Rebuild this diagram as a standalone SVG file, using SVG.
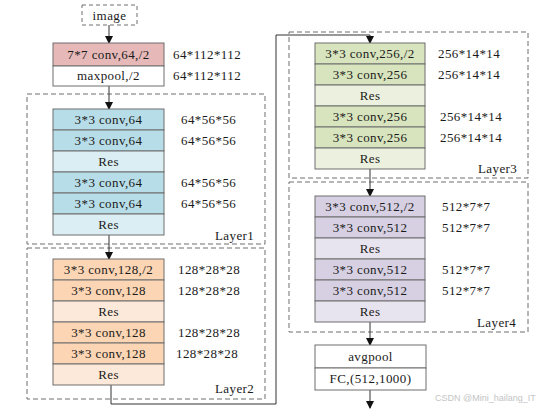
<svg xmlns="http://www.w3.org/2000/svg" width="543" height="412" viewBox="0 0 543 412">
<defs>
<style>
text{font-family:"Liberation Serif","Times New Roman",serif;font-size:13px;letter-spacing:0.4px;fill:#1a1a1a}
.c{text-anchor:middle}
.b{stroke:#6e6e6e;stroke-width:1}
.grp{fill:none;stroke:#6e6e6e;stroke-width:1;stroke-dasharray:5,3}
.ln{fill:none;stroke:#333;stroke-width:1}
.red{fill:#e6b9b8}.wh{fill:#fff}
.bl{fill:#b7dde8}.bl2{fill:#dbeef3}
.or{fill:#fcd5b4}.or2{fill:#fde9d9}
.gr{fill:#d7e4bd}.gr2{fill:#ebf1de}
.pu{fill:#d6d0e2}.pu2{fill:#e8e4ef}
</style>
<marker id="ar" markerWidth="8" markerHeight="8" refX="7" refY="4" orient="auto" markerUnits="userSpaceOnUse">
<path d="M0,0 L8,4 L0,8 z" fill="#111"/>
</marker>
</defs>
<rect width="543" height="412" fill="#fff"/>

<g id="groups">
<rect class="grp" x="27" y="94" width="238" height="150"/>
<rect class="grp" x="27" y="248" width="238" height="151"/>
<rect class="grp" x="289" y="32" width="239" height="146"/>
<rect class="grp" x="289" y="182" width="239" height="150"/>
</g>

<g id="connectors">
<line class="ln" x1="109" y1="25" x2="109" y2="43" marker-end="url(#ar)"/>
<line class="ln" x1="109" y1="86" x2="109" y2="109" marker-end="url(#ar)"/>
<line class="ln" x1="109" y1="235" x2="109" y2="259" marker-end="url(#ar)"/>
<polyline class="ln" points="111,385 111,404 276,404 276,35 370,35 370,43" marker-end="url(#ar)"/>
<line class="ln" x1="370" y1="169" x2="370" y2="196" marker-end="url(#ar)"/>
<line class="ln" x1="370" y1="322" x2="370" y2="345" marker-end="url(#ar)"/>
<line class="ln" x1="370" y1="390" x2="370" y2="408" marker-end="url(#ar)"/>
</g>

<g id="image">
<rect x="82" y="5" width="55" height="20" fill="#fff" stroke="#6e6e6e" stroke-dasharray="4,3"/>
<text class="c" x="109.5" y="19.5">image</text>
</g>

<g id="stem">
<rect class="b red" x="53" y="43" width="111" height="23"/>
<text class="c" x="108.5" y="59">7*7 conv,64,/2</text>
<rect class="b wh" x="53" y="66" width="111" height="20"/>
<text class="c" x="108.5" y="80">maxpool,/2</text>
<text x="173" y="59">64*112*112</text>
<text x="173" y="80">64*112*112</text>
</g>

<g id="layer1">
<rect class="b bl" x="53" y="109" width="111" height="21"/>
<rect class="b bl" x="53" y="130" width="111" height="21"/>
<rect class="b bl2" x="53" y="151" width="111" height="21"/>
<rect class="b bl" x="53" y="172" width="111" height="21"/>
<rect class="b bl" x="53" y="193" width="111" height="21"/>
<rect class="b bl2" x="53" y="214" width="111" height="21"/>
<text class="c" x="108.5" y="124">3*3 conv,64</text>
<text class="c" x="108.5" y="145">3*3 conv,64</text>
<text class="c" x="108.5" y="166">Res</text>
<text class="c" x="108.5" y="187">3*3 conv,64</text>
<text class="c" x="108.5" y="208">3*3 conv,64</text>
<text class="c" x="108.5" y="229">Res</text>
<text x="181" y="124">64*56*56</text>
<text x="181" y="145">64*56*56</text>
<text x="181" y="187">64*56*56</text>
<text x="181" y="208">64*56*56</text>
<text x="215" y="240">Layer1</text>
</g>

<g id="layer2">
<rect class="b or" x="53" y="259" width="111" height="21"/>
<rect class="b or" x="53" y="280" width="111" height="21"/>
<rect class="b or2" x="53" y="301" width="111" height="21"/>
<rect class="b or" x="53" y="322" width="111" height="21"/>
<rect class="b or" x="53" y="343" width="111" height="21"/>
<rect class="b or2" x="53" y="364" width="111" height="21"/>
<text class="c" x="108.5" y="274">3*3 conv,128,/2</text>
<text class="c" x="108.5" y="295">3*3 conv,128</text>
<text class="c" x="108.5" y="316">Res</text>
<text class="c" x="108.5" y="337">3*3 conv,128</text>
<text class="c" x="108.5" y="358">3*3 conv,128</text>
<text class="c" x="108.5" y="379">Res</text>
<text x="178" y="274">128*28*28</text>
<text x="178" y="295">128*28*28</text>
<text x="178" y="337">128*28*28</text>
<text x="176" y="358">128*28*28</text>
<text x="215" y="393">Layer2</text>
</g>

<g id="layer3">
<rect class="b gr" x="315" y="43" width="110" height="21"/>
<rect class="b gr" x="315" y="64" width="110" height="21"/>
<rect class="b gr2" x="315" y="85" width="110" height="21"/>
<rect class="b gr" x="315" y="106" width="110" height="21"/>
<rect class="b gr" x="315" y="127" width="110" height="21"/>
<rect class="b gr2" x="315" y="148" width="110" height="21"/>
<text class="c" x="370" y="58">3*3 conv,256,/2</text>
<text class="c" x="370" y="79">3*3 conv,256</text>
<text class="c" x="370" y="100">Res</text>
<text class="c" x="370" y="121">3*3 conv,256</text>
<text class="c" x="370" y="142">3*3 conv,256</text>
<text class="c" x="370" y="163">Res</text>
<text x="438" y="58">256*14*14</text>
<text x="438" y="79">256*14*14</text>
<text x="440" y="121">256*14*14</text>
<text x="440" y="142">256*14*14</text>
<text x="478" y="173">Layer3</text>
</g>

<g id="layer4">
<rect class="b pu" x="315" y="196" width="110" height="21"/>
<rect class="b pu" x="315" y="217" width="110" height="21"/>
<rect class="b pu2" x="315" y="238" width="110" height="21"/>
<rect class="b pu" x="315" y="259" width="110" height="21"/>
<rect class="b pu" x="315" y="280" width="110" height="21"/>
<rect class="b pu2" x="315" y="301" width="110" height="21"/>
<text class="c" x="370" y="211">3*3 conv,512,/2</text>
<text class="c" x="370" y="232">3*3 conv,512</text>
<text class="c" x="370" y="253">Res</text>
<text class="c" x="370" y="274">3*3 conv,512</text>
<text class="c" x="370" y="295">3*3 conv,512</text>
<text class="c" x="370" y="316">Res</text>
<text x="442" y="211">512*7*7</text>
<text x="442" y="232">512*7*7</text>
<text x="442" y="274">512*7*7</text>
<text x="442" y="295">512*7*7</text>
<text x="477" y="327">Layer4</text>
</g>

<g id="head">
<rect class="b wh" x="315" y="345" width="111" height="23"/>
<rect class="b wh" x="315" y="368" width="111" height="22"/>
<text class="c" x="370.5" y="361">avgpool</text>
<text class="c" x="370.5" y="383">FC,(512,1000)</text>
</g>

<text x="435" y="401" style="font-family:'Liberation Sans',Arial,sans-serif;font-size:9px;letter-spacing:0;fill:#c4c4c4">CSDN @Mini_hailang_IT</text>
</svg>
